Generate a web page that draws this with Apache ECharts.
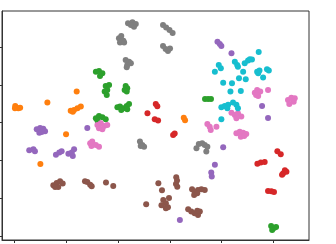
<!DOCTYPE html>
<html>
<head>
<meta charset="utf-8">
<script src="https://cdn.jsdelivr.net/npm/echarts@6/dist/echarts.min.js"></script>
<style>html,body{margin:0;padding:0;background:#fff;}#c{width:336px;height:244px;}</style>
</head>
<body>
<div id="c"></div>
<script>
const xTicks = [-60, -40, -20, 0, 20, 40];
const yTicks = [-60, -40, -20, 0, 20, 40];

const orange = [[-59.6,8.8],[-58.4,7.6],[-57.7,7.9],[-59.7,7.6],[-47.2,10.6],[-35.9,16.4],[-38.2,6.3],[-36.9,6.7],[-35.6,7.6],[-34.3,8.5],[-37.4,5.7],[-40.0,-6.1],[-49.9,-21.8],[5.4,2.6],[5.9,1.3]];
const gray = [[-16.1,52.5],[-14.4,53.0],[-13.1,52.1],[-13.8,50.7],[-15.0,51.6],[-19.6,44.6],[-18.7,45.8],[-17.9,43.3],[-19.2,42.3],[-17.6,42.3],[-17.0,33.1],[-15.7,32.2],[-16.4,30.5],[-15.0,31.4],[-16.6,29.3],[-2.6,51.6],[-1.4,50.3],[-0.1,49.0],[1.1,47.4],[-2.6,40.5],[-1.6,38.9],[-0.7,37.9],[0.1,39.2],[-11.5,-10.0],[-10.6,-11.8],[-9.9,-12.7],[-11.2,-12.3],[10.3,-13.5],[11.2,-11.3],[12.5,-10.9],[13.5,-11.8],[14.5,-12.7],[14.1,-15.3]];
const green = [[-28.5,26.9],[-27.3,27.3],[-26.0,26.1],[-26.9,24.7],[-24.7,19.4],[-23.4,19.9],[-24.1,17.3],[-25.1,16.4],[-24.3,14.6],[-17.0,19.4],[-16.4,18.2],[-17.4,17.3],[-16.6,16.4],[-20.2,8.1],[-19.2,8.5],[-17.9,7.6],[-16.6,8.8],[-15.7,9.9],[-16.4,7.1],[-18.7,6.7],[-28.5,2.3],[-27.3,3.5],[-26.0,2.9],[-24.7,1.8],[-27.9,1.1],[13.6,12.5],[14.8,12.5],[15.9,12.5],[39.1,-54.6],[40.2,-55.6],[39.5,-56.7],[41.0,-55.1]];
const red = [[-5.4,9.9],[-4.8,8.7],[-8.6,5.0],[-5.8,1.8],[-4.5,1.1],[1.3,-6.5],[1.9,-5.7],[41.5,-15.1],[42.8,-16.7],[33.8,-21.7],[35.1,-21.1],[36.6,-20.8],[43.7,-26.9],[44.4,-25.1],[45.0,-26.0],[43.3,-27.5],[37.9,-36.1],[39.2,-36.2],[40.2,-36.6]];
const purple = [[18.4,42.8],[19.3,41.6],[19.9,40.5],[23.8,36.7],[35.6,8.8],[37.9,2.5],[20.6,-13.0],[17.4,-22.2],[16.0,-26.4],[16.2,-28.5],[3.9,-51.4],[-51.3,-3.5],[-50.0,-2.8],[-48.8,-3.2],[-48.1,-4.5],[-50.3,-5.3],[-49.4,-4.9],[-54.2,-14.6],[-52.6,-14.1],[-52.0,-15.1],[-43.9,-16.9],[-42.6,-15.8],[-41.7,-15.1],[-39.1,-16.4],[-37.8,-15.8],[-36.9,-14.1],[-37.4,-17.6],[-31.8,-2.8]];
const pink = [[-27.9,-1.2],[-26.6,-0.3],[-25.3,-1.7],[-24.1,-1.2],[-26.0,-3.5],[-27.3,-3.0],[-30.7,-10.9],[-29.9,-10.0],[-28.5,-11.8],[-27.3,-12.7],[-30.2,-12.3],[23.8,5.3],[25.1,4.1],[26.3,5.0],[27.6,3.2],[25.7,2.3],[14.5,-0.7],[15.4,-2.1],[15.8,-3.9],[18.0,-2.1],[25.7,-5.6],[27.0,-4.8],[28.3,-5.3],[29.5,-6.0],[27.4,-7.4],[28.7,-7.0],[32.8,15.8],[33.7,17.3],[34.9,16.4],[34.1,14.1],[33.3,14.6],[37.9,17.3],[45.6,12.0],[46.9,13.2],[48.2,12.9],[47.8,11.1],[46.1,9.9]];
const cyan = [[18.9,30.5],[19.7,28.7],[17.4,26.9],[25.1,32.2],[26.0,30.5],[26.3,29.6],[28.9,31.4],[30.2,32.8],[30.9,33.5],[31.7,33.4],[28.3,26.9],[26.7,23.5],[29.3,22.9],[20.6,21.1],[24.0,20.8],[23.4,16.4],[27.4,16.7],[19.9,8.1],[21.2,8.8],[22.5,9.4],[24.4,10.6],[25.7,9.4],[26.3,7.6],[22.2,7.6],[19.9,1.8],[34.3,37.4],[33.7,26.9],[34.6,27.5],[34.1,26.1],[37.5,28.2],[38.2,27.5],[36.0,23.8]];
const brown = [[-44.9,-33.1],[-43.6,-31.9],[-42.3,-31.0],[-41.3,-32.2],[-43.0,-34.0],[-44.2,-34.0],[-32.7,-31.0],[-31.8,-31.3],[-30.7,-32.8],[-30.1,-33.6],[-24.6,-31.6],[-21.8,-33.5],[-4.4,-32.0],[-3.0,-35.7],[-9.1,-43.1],[-2.5,-40.8],[-1.5,-42.6],[-3.2,-43.7],[-1.5,-45.2],[-0.3,-39.8],[-0.7,-44.7],[2.5,-28.8],[2.8,-30.6],[2.4,-32.4],[2.9,-33.8],[8.6,-35.2],[9.6,-36.5],[10.9,-35.6],[12.2,-35.2],[13.5,-35.6],[9.4,-38.2],[10.6,-37.3],[7.1,-45.8],[8.3,-47.0],[9.6,-47.9],[10.9,-48.8],[11.6,-47.0],[10.6,-46.5]];

const groups = [
  ['orange', orange, '#ff7f0e'],
  ['gray', gray, '#7f7f7f'],
  ['green', green, '#2ca02c'],
  ['red', red, '#d62728'],
  ['purple', purple, '#9467bd'],
  ['pink', pink, '#e377c2'],
  ['cyan', cyan, '#17becf'],
  ['brown', brown, '#8c564b']
];

const chart = echarts.init(document.getElementById('c'), null, {renderer: 'canvas'});
const tickStyle = {show: true, length: 3, inside: false, lineStyle: {color: '#333', width: 1}};
const axisCommon = {
  type: 'value',
  axisLabel: {show: false},
  splitLine: {show: false},
  axisLine: {show: true, onZero: false, lineStyle: {color: '#333', width: 1}}
};
chart.setOption({
  animation: false,
  grid: {left: 2, right: 27, top: 11, bottom: 4, show: true, borderColor: '#333', borderWidth: 1},
  xAxis: Object.assign({}, axisCommon, {min: -64.7, max: 53.7,
    axisTick: Object.assign({}, tickStyle, {customValues: xTicks})}),
  yAxis: Object.assign({}, axisCommon, {min: -62, max: 59,
    axisTick: Object.assign({}, tickStyle, {customValues: yTicks})}),
  series: groups.map(g => ({
    name: g[0], type: 'scatter', data: g[1], symbolSize: 6,
    itemStyle: {color: g[2], opacity: 1}, emphasis: {disabled: true}
  }))
});
</script>
</body>
</html>
